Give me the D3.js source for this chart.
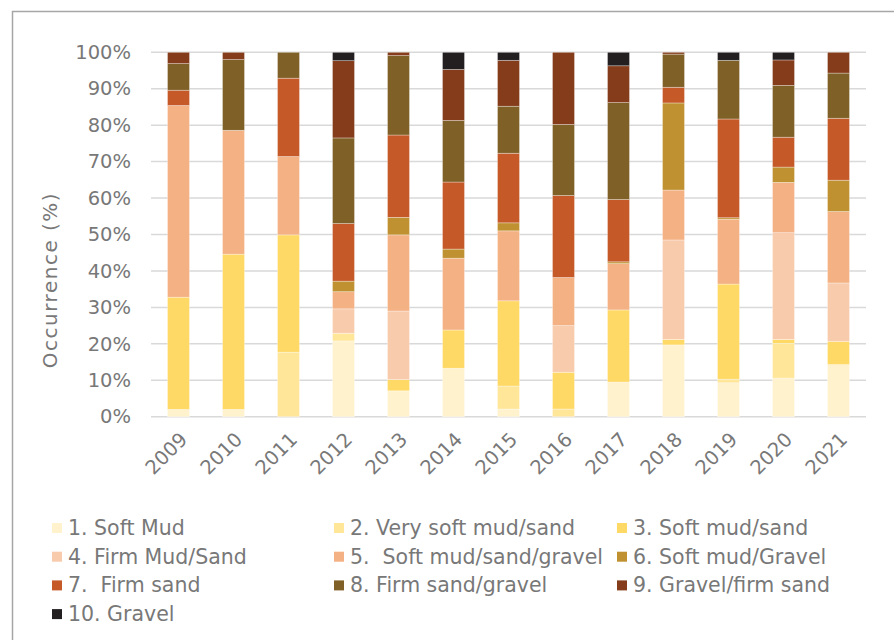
<!DOCTYPE html>
<html>
<head>
<meta charset="utf-8">
<script src="https://cdn.jsdelivr.net/npm/d3@7"></script>
<style>
  body { margin: 0; background: #fff; }
  text { font-family: "DejaVu Sans", Verdana, sans-serif; fill: #787878; }
</style>
</head>
<body>
<svg id="chart" width="894" height="640"></svg>
<script>
// years on the x axis
var years = ["2009", "2010", "2011", "2012", "2013", "2014", "2015", "2016", "2017", "2018", "2019", "2020", "2021"];

// substrate classes (legend order = stack order, bottom to top)
var classes = ["1. Soft Mud", "2. Very soft mud/sand", "3. Soft mud/sand", "4. Firm Mud/Sand",
  "5.  Soft mud/sand/gravel", "6. Soft mud/Gravel", "7.  Firm sand", "8. Firm sand/gravel",
  "9. Gravel/firm sand", "10. Gravel"];

// occurrence (%) per class, one value per year
var softMud          = [2.0, 2.0, 0, 20.8, 7.1, 13.3, 2.1, 0, 9.5, 19.7, 9.3, 10.6, 14.3];
var verySoftMudSand  = [0, 0, 17.7, 2.1, 0, 0, 6.3, 2.1, 0, 0, 1.0, 9.5, 0];
var softMudSand      = [30.8, 42.6, 32.2, 0, 3.1, 10.5, 23.4, 10.1, 19.8, 1.5, 26.1, 1.1, 6.4];
var firmMudSand      = [0, 0, 0, 6.7, 18.8, 0, 0, 12.8, 0, 27.3, 0, 29.3, 16.0];
var softMudSandGrav  = [52.6, 34.0, 21.5, 4.7, 20.9, 19.7, 19.2, 13.2, 12.7, 13.7, 17.8, 13.8, 19.6];
var softMudGravel    = [0, 0, 0, 2.9, 4.8, 2.5, 2.2, 0, 0.5, 23.9, 0.4, 4.2, 8.6];
var firmSand         = [4.2, 0, 21.5, 15.8, 22.6, 18.4, 19.1, 22.5, 17.1, 4.3, 27.1, 8.2, 17.0];
var firmSandGravel   = [7.3, 19.4, 7.1, 23.5, 21.8, 16.9, 12.9, 19.5, 26.6, 9.1, 16.1, 14.2, 12.4];
var gravelFirmSand   = [3.1, 2.0, 0, 21.2, 0.9, 14.0, 12.6, 19.8, 10.1, 0.5, 0, 7.0, 5.7];
var gravel           = [0, 0, 0, 2.3, 0, 4.7, 2.2, 0, 3.7, 0, 2.2, 2.1, 0];

var series = [softMud, verySoftMudSand, softMudSand, firmMudSand, softMudSandGrav,
  softMudGravel, firmSand, firmSandGravel, gravelFirmSand, gravel];

var colors = ["#FFF2CC", "#FFE699", "#FFD966", "#F8CBAD", "#F4B183",
  "#BF9130", "#C55A28", "#7F6027", "#843C1A", "#231F20"];

var yTicks = [0, 0.1, 0.2, 0.3, 0.4, 0.5, 0.6, 0.7, 0.8, 0.9, 1];

// build rows for d3.stack
var rows = years.map(function (y, i) {
  var r = { year: y };
  classes.forEach(function (c, k) { r[c] = series[k][i]; });
  return r;
});

var svg = d3.select("#chart");

// outer frame
svg.append("rect")
  .attr("x", 12.5).attr("y", 11.5)
  .attr("width", 900).attr("height", 700)
  .attr("fill", "none")
  .attr("stroke", "#a6a6a6")
  .attr("stroke-width", 1.5);

var plotLeft = 151, plotRight = 866, plotTop = 52.3, plotBottom = 416.7;

var xScale = d3.scaleBand().domain(years).range([plotLeft, plotRight])
  .paddingInner(0.6).paddingOuter(0.3);
var yScale = d3.scaleLinear().domain([0, 1]).range([plotBottom, plotTop]);

// gridlines
svg.append("g")
  .selectAll("line")
  .data(yTicks)
  .enter()
  .append("line")
  .attr("x1", plotLeft).attr("x2", plotRight)
  .attr("y1", function (d) { return yScale(d); })
  .attr("y2", function (d) { return yScale(d); })
  .attr("stroke", "#d9d9d9")
  .attr("stroke-width", 1.5);

// Y-Axis labels
var yAxis = svg.append("g")
  .attr("transform", "translate(" + plotLeft + ",0)")
  .call(d3.axisLeft(yScale).tickValues(yTicks).tickSize(0).tickPadding(20)
    .tickFormat(d3.format(".0%")));
yAxis.select(".domain").remove();
yAxis.selectAll("text")
  .style("font-size", "19.5px")
  .attr("fill", "#787878");

// Y-Axis title
svg.append("text")
  .attr("transform", "translate(57,280) rotate(-90)")
  .attr("text-anchor", "middle")
  .style("font-size", "20px")
  .style("letter-spacing", "1.5px")
  .text("Occurrence (%)");

// X-Axis labels
var xAxis = svg.append("g")
  .attr("transform", "translate(0," + plotBottom + ")")
  .call(d3.axisBottom(xScale).tickSize(0));
xAxis.select(".domain").remove();
xAxis.selectAll("text")
  .style("font-size", "19.5px")
  .attr("fill", "#787878")
  .attr("y", 0).attr("dy", 0)
  .style("text-anchor", "end")
  .attr("transform", "translate(10,24) rotate(-45)");

// stacked bars
var stack = d3.stack().keys(classes).offset(d3.stackOffsetExpand);
var layers = stack(rows);

svg.append("g")
  .selectAll("g")
  .data(layers)
  .enter()
  .append("g")
  .attr("fill", function (d, i) { return colors[i]; })
  .selectAll("rect")
  .data(function (d) { return d.filter(function (p) { return p[1] - p[0] > 0; }); })
  .enter()
  .append("rect")
  .attr("x", function (d) { return xScale(d.data.year); })
  .attr("y", function (d) { return yScale(d[1]); })
  .attr("width", xScale.bandwidth())
  .attr("height", function (d) { return yScale(d[0]) - yScale(d[1]); })
  .attr("stroke", "#ffffff")
  .attr("stroke-opacity", 0.45)
  .attr("stroke-width", 0.7);

// legend
var legendCols = [52, 334, 617];
var legend = svg.append("g")
  .selectAll("g")
  .data(classes)
  .enter()
  .append("g")
  .attr("transform", function (d, i) {
    return "translate(" + legendCols[i % 3] + "," + (523 + Math.floor(i / 3) * 28.7) + ")";
  });
legend.append("rect")
  .attr("width", 10).attr("height", 10)
  .attr("fill", function (d, i) { return colors[i]; });
legend.append("text")
  .attr("x", 16).attr("y", 12)
  .style("font-size", "20.5px")
  .style("white-space", "pre")
  .text(function (d) { return d; });
</script>
</body>
</html>
